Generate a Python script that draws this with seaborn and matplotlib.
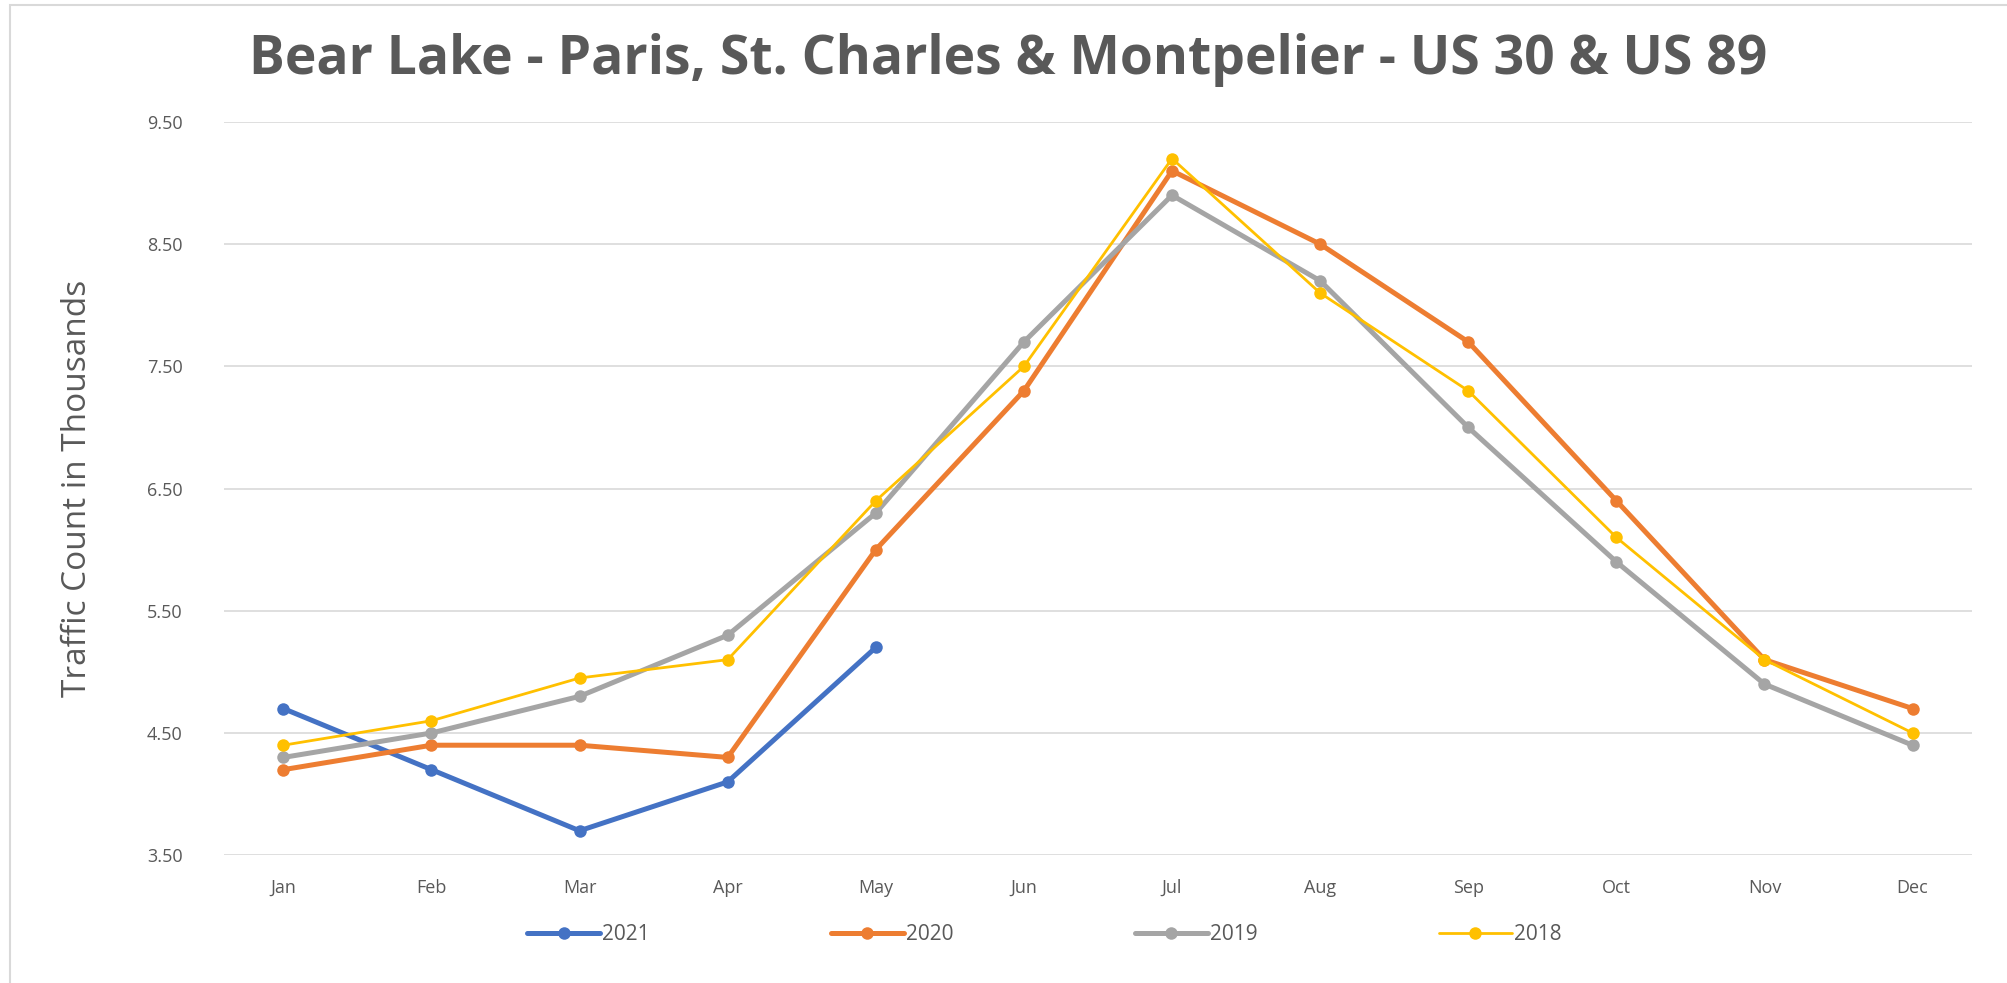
import pandas as pd
import seaborn as sns
import matplotlib.pyplot as plt
from matplotlib.lines import Line2D
from matplotlib.patches import Rectangle

# data
months = ['Jan', 'Feb', 'Mar', 'Apr', 'May', 'Jun',
          'Jul', 'Aug', 'Sep', 'Oct', 'Nov', 'Dec']
y2021 = [4.7, 4.2, 3.7, 4.1, 5.2]
y2020 = [4.2, 4.4, 4.4, 4.3, 6.0, 7.3, 9.1, 8.5, 7.7, 6.4, 5.1, 4.7]
y2019 = [4.3, 4.5, 4.8, 5.3, 6.3, 7.7, 8.9, 8.2, 7.0, 5.9, 4.9, 4.4]
y2018 = [4.4, 4.6, 4.95, 5.1, 6.4, 7.5, 9.2, 8.1, 7.3, 6.1, 5.1, 4.5]
yticks = [3.5, 4.5, 5.5, 6.5, 7.5, 8.5, 9.5]

series = {'2021': y2021, '2020': y2020, '2019': y2019, '2018': y2018}
colors = {'2021': '#4472C4', '2020': '#ED7D31', '2019': '#A5A5A5', '2018': '#FFC000'}
widths = {'2021': 3.6, '2020': 3.6, '2019': 3.6, '2018': 2.0}

sns.set_style('white')
plt.rcParams['font.family'] = ['Open Sans', 'DejaVu Sans']

fig = plt.figure(figsize=(20.08, 9.83), dpi=100)
ax = fig.add_axes([0.1116, 0.130, 0.8704, 0.746])

for i, (year, vals) in enumerate(series.items()):
    df = pd.DataFrame({'month': months[:len(vals)], 'x': range(len(vals)), 'value': vals})
    sns.lineplot(data=df, x='x', y='value', ax=ax, color=colors[year],
                 linewidth=widths[year], marker='o', markersize=9,
                 markeredgewidth=0, zorder=3 + i)

ax.set_xlim(-0.4, 11.4)
ax.set_ylim(3.5, 9.5)
ax.set_xticks(range(12))
ax.set_xticklabels(months)
ax.set_yticks(yticks)
ax.set_yticklabels([f'{v:.2f}' for v in yticks])
ax.tick_params(axis='both', labelsize=13, labelcolor='#595959', length=0)
ax.tick_params(axis='x', pad=17)
ax.tick_params(axis='y', pad=30)
ax.grid(axis='y', color='#D9D9D9', linewidth=1.2)
ax.set_axisbelow(True)
for s in ax.spines.values():
    s.set_visible(False)
ax.set_xlabel('')
ax.set_ylabel('Traffic Count in Thousands', fontsize=24, color='#595959', labelpad=38)

fig.text(0.502, 0.939, 'Bear Lake - Paris, St. Charles & Montpelier - US 30 & US 89',
         ha='center', va='center', fontsize=38.5, fontweight='bold', color='#595959')

handles = [Line2D([0], [0], color=colors[y], linewidth=widths[y], marker='o',
                  markersize=9, markeredgewidth=0) for y in series]
fig.legend(handles, list(series.keys()), loc='center', bbox_to_anchor=(0.52, 0.049),
           ncol=4, frameon=False, fontsize=15, handlelength=3.5, handletextpad=0.1,
           columnspacing=8.7, labelcolor='#595959')

fig.patches.append(Rectangle((0.005, -0.01), 1.0, 1.005, transform=fig.transFigure,
                             fill=False, edgecolor='#D9D9D9', linewidth=1.5))

fig.savefig('out.png', dpi=100)
